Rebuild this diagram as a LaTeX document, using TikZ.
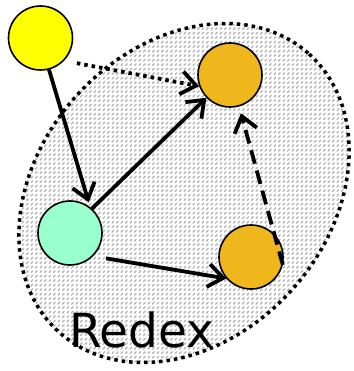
\documentclass[tikz,border=0pt]{standalone}
\usepackage{fontspec}
\newfontfamily\labelfont{DejaVu Sans}
\usetikzlibrary{arrows.meta,patterns,patterns.meta}
\definecolor{myyellow}{HTML}{FFFF00}
\definecolor{mycyan}{HTML}{99FFCC}
\definecolor{myorange}{HTML}{EFB71C}
\tikzdeclarepattern{
  name=hatch,
  type=uncolored,
  bounding box={(-1pt,-1pt) and (5.5pt,5.5pt)},
  tile size={(4.5pt,4.5pt)},
  code={\draw[line width=1.1pt] (-1pt,-1pt) -- (5.5pt,5.5pt);}
}
\tikzset{
  ball/.style={circle, draw=black, line width=1.6pt, minimum size=64pt, inner sep=0pt},
  conn/.style={line width=3.8pt, -{Straight Barb[length=15pt,width=23pt,line width=3.8pt]}},
  dotconn/.style={conn, dash pattern=on 3.5pt off 4pt},
  dashconn/.style={conn, dash pattern=on 14pt off 7pt},
}
\begin{document}
\begin{tikzpicture}[x=1pt,y=-1pt]
\useasboundingbox (0,0) rectangle (353,371);
\draw[rotate around={48:(184,193)}, pattern=hatch, pattern color=black!27,
      line width=3.5pt, dash pattern=on 3.5pt off 4pt]
  (184,193) ellipse [x radius=187, y radius=145];
\node[ball, fill=myyellow] (y) at (40.5,38) {};
\node[ball, fill=myorange] (t) at (230,75) {};
\node[ball, fill=mycyan] (c) at (70,233) {};
\node[ball, fill=myorange] (b) at (251,257) {};
\node[anchor=base, font=\labelfont\fontsize{47}{50}\selectfont] (r) at (142,347) {Redex};
\draw[conn, shorten >=5pt] (y.-75) -- (c.52);
\draw[conn] (c.48) -- (t.224);
\draw[dotconn, shorten <=13pt] (y.-44) -- (t.200);
\draw[conn, shorten <=13pt] (c.-45) -- (b.221);
\draw[dashconn, shorten >=7pt] (b.-14) -- (t.-74);
\end{tikzpicture}
\end{document}
